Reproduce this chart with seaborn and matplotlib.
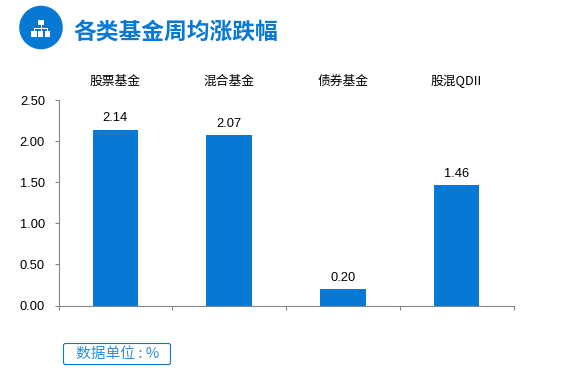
import matplotlib
matplotlib.use('Agg')
import matplotlib.pyplot as plt
from matplotlib.patches import Circle, Rectangle, FancyBboxPatch
import pandas as pd
import seaborn as sns

categories = ['股票基金', '混合基金', '债券基金', '股混QDII']
values = [2.14, 2.07, 0.20, 1.46]
yticks = [0, 0.5, 1.0, 1.5, 2.0, 2.5]

BLUE = '#0779d4'
GREY = '#868686'
W, H = 582, 372

sns.set_theme(style='white')
plt.rcParams['font.family'] = ['Noto Sans CJK SC', 'DejaVu Sans']

df = pd.DataFrame({'cat': categories, 'val': values})

fig = plt.figure(figsize=(W / 100, H / 100), dpi=100, facecolor='white')
ax = fig.add_axes([58.5 / W, 1 - 305.5 / H, (513.5 - 58.5) / W, (305.5 - 100) / H])
sns.barplot(data=df, x='cat', y='val', color=BLUE, saturation=1, width=0.4, linewidth=0, ax=ax)

ax.set_xlim(-0.5, 3.5)
ax.set_ylim(0, 2.5)
ax.set_xlabel('')
ax.set_ylabel('')
for s in ['top', 'right']:
    ax.spines[s].set_visible(False)
for s in ['left', 'bottom']:
    ax.spines[s].set_color(GREY)
    ax.spines[s].set_linewidth(0.8)

# labels on top, tick marks between the groups at the bottom
ax.set_yticks(yticks)
ax.set_yticklabels([f'{v:.2f}' for v in yticks], fontsize=9.3, color='black',
                   family=['Liberation Sans'], va='center_baseline')
ax.tick_params(axis='y', left=True, length=2.7, width=0.8, color=GREY, pad=7)
ax.set_xticks(range(len(categories)))
ax.set_xticklabels(categories, fontsize=9.2, color='black',
                   family=['Noto Sans CJK SC', 'Liberation Sans'])
ax.tick_params(axis='x', which='major', bottom=False, top=False, labelbottom=False,
               labeltop=True, pad=2.7)
ax.set_xticks([-0.5, 0.5, 1.5, 2.5, 3.5], minor=True)
ax.tick_params(axis='x', which='minor', bottom=True, length=3, width=0.8, color=GREY)

for i, v in enumerate(values):
    ax.annotate(f'{v:.2f}', (i, v), xytext=(0, 4), textcoords='offset points',
                ha='center', va='bottom', fontsize=9.3, color='black', family=['Liberation Sans'])

# header badge and title
over = fig.add_axes([0, 0, 1, 1], facecolor='none')
over.set_xlim(0, W)
over.set_ylim(H, 0)
over.axis('off')
over.add_patch(Circle((41, 27.5), 21.8, color=BLUE, lw=0))
over.add_patch(Rectangle((37.5, 19.5), 6, 5.5, color='white', lw=0))
for x in [31, 37.8, 44.6]:
    over.add_patch(Rectangle((x, 31), 5.5, 5.5, color='white', lw=0))
over.plot([40.5, 40.5], [25, 31], color='white', lw=0.7)
over.plot([33.7, 47.3], [28, 28], color='white', lw=0.7)
over.plot([33.7, 33.7], [28, 31], color='white', lw=0.7)
over.plot([47.3, 47.3], [28, 31], color='white', lw=0.7)
over.text(73, 32.5, '各类基金周均涨跌幅', fontsize=16.4, fontweight='bold', color=BLUE,
          va='center', ha='left')

# unit box
over.add_patch(FancyBboxPatch((63.5, 343.5), 107, 21, boxstyle='round,pad=0,rounding_size=2',
                              fc='white', ec=BLUE, lw=0.8))
over.text(117.5, 354, '数据单位 : %', fontsize=10.6, color='#2f8cdc', va='center', ha='center')

fig.savefig('out.png', dpi=100)
